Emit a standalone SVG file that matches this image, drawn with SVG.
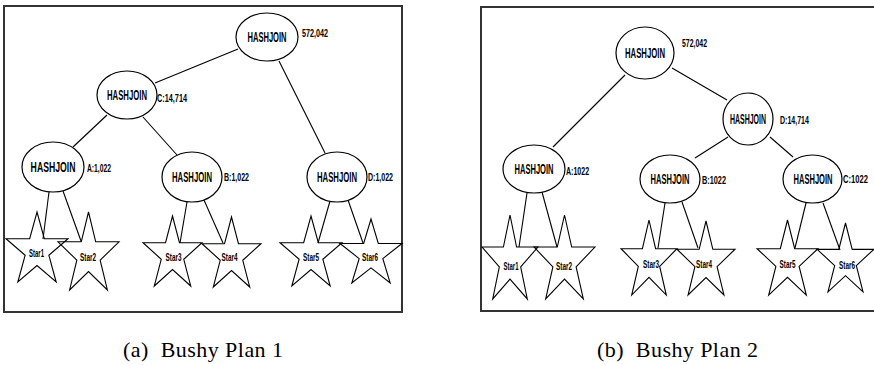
<svg xmlns="http://www.w3.org/2000/svg" xmlns:xlink="http://www.w3.org/1999/xlink" width="874" height="365" viewBox="0 0 874 365">
<style>
.frame{fill:none;stroke:#333;stroke-width:2}
.ell{fill:#fff;stroke:#000;stroke-width:1.2}
.edge{stroke:#000;stroke-width:1.1;fill:none}
.star{fill:none;stroke:#000;stroke-width:1.1}
.hj{font-family:"Liberation Sans",Arial,sans-serif;font-weight:bold;font-size:14px;text-anchor:middle;fill:#000}
.lbl{font-family:"Liberation Sans",Arial,sans-serif;font-weight:bold;font-size:11px;fill:#000}
.sl{font-family:"Liberation Sans",Arial,sans-serif;font-weight:bold;font-size:11px;text-anchor:middle;fill:#000}
.cap{font-family:"Liberation Serif","Times New Roman",serif;font-size:22px;fill:#000}
</style>
<defs>
<path id="starshape" vector-effect="non-scaling-stroke" d="M0,-100 L22.45,-30.9 L95.1,-30.9 L36.3,11.8 L58.8,80.9 L0,38.2 L-58.8,80.9 L-36.3,11.8 L-95.1,-30.9 L-22.45,-30.9 Z"/>
</defs>
<rect class="frame" x="4" y="6" width="398" height="306"/>
<rect class="frame" x="481" y="7" width="400" height="304"/>
<g id="connectors">
<line class="edge" x1="238" y1="49" x2="155" y2="83"/>
<line class="edge" x1="279" y1="61" x2="325" y2="153"/>
<line class="edge" x1="107" y1="115" x2="73" y2="147"/>
<line class="edge" x1="143" y1="117" x2="177" y2="155"/>
<line class="edge" x1="49" y1="192" x2="43" y2="239"/>
<line class="edge" x1="63" y1="191" x2="81" y2="241"/>
<line class="edge" x1="187" y1="202" x2="180" y2="243"/>
<line class="edge" x1="204" y1="200" x2="223" y2="243"/>
<line class="edge" x1="330" y1="201" x2="318" y2="243"/>
<line class="edge" x1="348" y1="200" x2="363" y2="243"/>
<line class="edge" x1="625" y1="75" x2="553" y2="147"/>
<line class="edge" x1="672" y1="68" x2="727" y2="100"/>
<line class="edge" x1="728" y1="137" x2="695" y2="158"/>
<line class="edge" x1="770" y1="137" x2="793" y2="157"/>
<line class="edge" x1="527" y1="193" x2="519" y2="247"/>
<line class="edge" x1="542" y1="192" x2="557" y2="247"/>
<line class="edge" x1="665" y1="203" x2="658" y2="248"/>
<line class="edge" x1="682" y1="202" x2="698" y2="248"/>
<line class="edge" x1="806" y1="203" x2="795" y2="248"/>
<line class="edge" x1="823" y1="203" x2="840" y2="250"/>
</g>
<g id="a-root"><ellipse class="ell" cx="267" cy="37" rx="31" ry="24"/><text class="hj" transform="translate(267,42) scale(0.54,1)">HASHJOIN</text><text class="lbl" transform="translate(302,37) scale(0.655,1)">572,042</text></g>
<g id="a-c"><ellipse class="ell" cx="127" cy="95" rx="30" ry="24"/><text class="hj" transform="translate(127,100) scale(0.553,1)">HASHJOIN</text><text class="lbl" transform="translate(157,102) scale(0.664,1)">C:14,714</text></g>
<g id="a-a"><ellipse class="ell" cx="53" cy="167" rx="31" ry="25"/><text class="hj" transform="translate(53,172) scale(0.62,1)">HASHJOIN</text><text class="lbl" transform="translate(87,172) scale(0.614,1)">A:1,022</text></g>
<g id="a-b"><ellipse class="ell" cx="192" cy="177" rx="30" ry="25"/><text class="hj" transform="translate(192,182) scale(0.553,1)">HASHJOIN</text><text class="lbl" transform="translate(224,181) scale(0.64,1)">B:1,022</text></g>
<g id="a-d"><ellipse class="ell" cx="337" cy="177" rx="30" ry="25"/><text class="hj" transform="translate(337,182) scale(0.553,1)">HASHJOIN</text><text class="lbl" transform="translate(368,181) scale(0.64,1)">D:1,022</text></g>
<g id="a-star1"><use xlink:href="#starshape" class="star" transform="translate(37,250.7) scale(0.326,0.387)"/><text class="sl" transform="translate(36.5,257) scale(0.545,1)">Star1</text></g>
<g id="a-star2"><use xlink:href="#starshape" class="star" transform="translate(88.5,255.1) scale(0.321,0.431)"/><text class="sl" transform="translate(88,261) scale(0.58,1)">Star2</text></g>
<g id="a-star3"><use xlink:href="#starshape" class="star" transform="translate(172.5,254.7) scale(0.31,0.387)"/><text class="sl" transform="translate(173.5,261) scale(0.58,1)">Star3</text></g>
<g id="a-star4"><use xlink:href="#starshape" class="star" transform="translate(231.5,255.7) scale(0.31,0.387)"/><text class="sl" transform="translate(229.5,261) scale(0.58,1)">Star4</text></g>
<g id="a-star5"><use xlink:href="#starshape" class="star" transform="translate(311,254.7) scale(0.326,0.387)"/><text class="sl" transform="translate(311,261) scale(0.58,1)">Star5</text></g>
<g id="a-star6"><use xlink:href="#starshape" class="star" transform="translate(371,254.4) scale(0.326,0.354)"/><text class="sl" transform="translate(370,261) scale(0.58,1)">Star6</text></g>
<g id="b-root"><ellipse class="ell" cx="645" cy="53" rx="29" ry="26"/><text class="hj" transform="translate(645,58) scale(0.553,1)">HASHJOIN</text><text class="lbl" transform="translate(682,47) scale(0.63,1)">572,042</text></g>
<g id="b-d"><ellipse class="ell" cx="748" cy="119" rx="25" ry="26"/><text class="hj" transform="translate(748,124) scale(0.498,1)">HASHJOIN</text><text class="lbl" transform="translate(780,124) scale(0.64,1)">D:14,714</text></g>
<g id="b-a"><ellipse class="ell" cx="534" cy="169" rx="31" ry="24"/><text class="hj" transform="translate(534,174) scale(0.54,1)">HASHJOIN</text><text class="lbl" transform="translate(566,175) scale(0.64,1)">A:1022</text></g>
<g id="b-b"><ellipse class="ell" cx="670" cy="179" rx="30" ry="24"/><text class="hj" transform="translate(670,184) scale(0.54,1)">HASHJOIN</text><text class="lbl" transform="translate(702,184) scale(0.665,1)">B:1022</text></g>
<g id="b-c"><ellipse class="ell" cx="812.5" cy="179" rx="29.5" ry="24"/><text class="hj" transform="translate(813,184) scale(0.54,1)">HASHJOIN</text><text class="lbl" transform="translate(843,183) scale(0.69,1)">C:1022</text></g>
<g id="b-star1"><use xlink:href="#starshape" class="star" transform="translate(510,261.4) scale(0.294,0.464)"/><text class="sl" transform="translate(511,270) scale(0.545,1)">Star1</text></g>
<g id="b-star2"><use xlink:href="#starshape" class="star" transform="translate(564.5,261.4) scale(0.32,0.464)"/><text class="sl" transform="translate(564,270) scale(0.58,1)">Star2</text></g>
<g id="b-star3"><use xlink:href="#starshape" class="star" transform="translate(649,261.5) scale(0.294,0.415)"/><text class="sl" transform="translate(651,268) scale(0.58,1)">Star3</text></g>
<g id="b-star4"><use xlink:href="#starshape" class="star" transform="translate(706,261.9) scale(0.305,0.409)"/><text class="sl" transform="translate(704,268) scale(0.58,1)">Star4</text></g>
<g id="b-star5"><use xlink:href="#starshape" class="star" transform="translate(787.5,261.5) scale(0.32,0.415)"/><text class="sl" transform="translate(787.5,268) scale(0.58,1)">Star5</text></g>
<g id="b-star6"><use xlink:href="#starshape" class="star" transform="translate(845.5,261.1) scale(0.298,0.381)"/><text class="sl" transform="translate(847,269) scale(0.58,1)">Star6</text></g>
<text class="cap" x="123" y="357" textLength="160" lengthAdjust="spacing" xml:space="preserve">(a)  Bushy Plan 1</text>
<text class="cap" x="597" y="357" textLength="161" lengthAdjust="spacing" xml:space="preserve">(b)  Bushy Plan 2</text>
</svg>
